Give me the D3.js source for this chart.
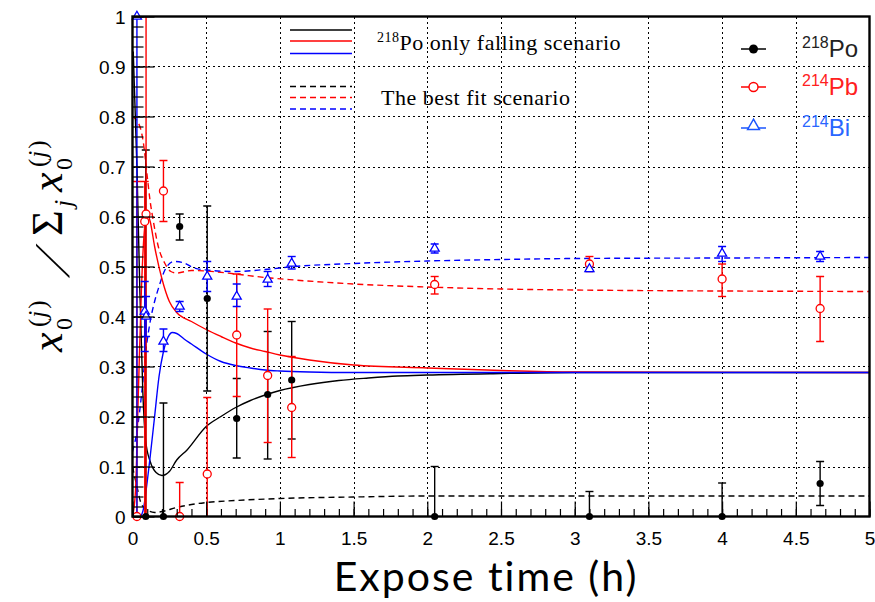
<!DOCTYPE html>
<html>
<head>
<meta charset="utf-8">
<script src="https://cdn.jsdelivr.net/npm/d3@7"></script>
<style>
  html, body { margin: 0; padding: 0; background: #fff; }
  svg { display: block; }
</style>
</head>
<body>
<svg id="chart" width="875" height="602"></svg>
<script>
// ---- axis ticks -------------------------------------------------------
const xTickValues = [0, 0.5, 1, 1.5, 2, 2.5, 3, 3.5, 4, 4.5, 5];
const xTickLabels = ["0", "0.5", "1", "1.5", "2", "2.5", "3", "3.5", "4", "4.5", "5"];
const yTickValues = [0, 0.1, 0.2, 0.3, 0.4, 0.5, 0.6, 0.7, 0.8, 0.9, 1];
const yTickLabels = ["0", "0.1", "0.2", "0.3", "0.4", "0.5", "0.6", "0.7", "0.8", "0.9", "1"];

// ---- measured fractions with asymmetric error bars -------------------
// 218Po
const poT  = [0.03, 0.09, 0.21, 0.32, 0.507, 0.707, 0.917, 1.08, 2.05, 3.1, 4.0, 4.665];
const poV  = [0.0, 0.0, 0.0, 0.58, 0.436, 0.196, 0.244, 0.273, 0.0, 0.0, 0.0, 0.066];
const poLo = [0.0, 0.0, 0.0, 0.553, 0.251, 0.117, 0.115, 0.155, 0.0, 0.0, 0.0, 0.022];
const poHi = [0.0, 0.733, 0.227, 0.605, 0.621, 0.276, 0.37, 0.39, 0.1, 0.05, 0.067, 0.11];
// 214Pb
const pbT  = [0.03, 0.083, 0.092, 0.21, 0.32, 0.507, 0.707, 0.917, 1.08, 2.05, 3.1, 4.0, 4.665];
const pbV  = [0.0, 0.59, 0.605, 0.651, 0.0, 0.085, 0.363, 0.282, 0.218, 0.464, 0.505, 0.475, 0.416];
const pbLo = [0.0, 0.0, 0.0, 0.59, 0.0, 0.0, 0.24, 0.148, 0.118, 0.445, 0.49, 0.44, 0.35];
const pbHi = [0.67, 0.67, 1.0, 0.712, 0.068, 0.238, 0.485, 0.415, 0.32, 0.48, 0.52, 0.505, 0.48];
// 214Bi
const biT  = [0.03, 0.083, 0.092, 0.21, 0.32, 0.507, 0.707, 0.917, 1.08, 2.05, 3.1, 4.0, 4.665];
const biV  = [1.0, 0.41, 0.40, 0.35, 0.42, 0.48, 0.44, 0.474, 0.506, 0.536, 0.495, 0.526, 0.52];
const biLo = [0.0, 0.33, 0.36, 0.33, 0.41, 0.45, 0.42, 0.46, 0.495, 0.527, 0.49, 0.51, 0.51];
const biHi = [1.0, 0.47, 0.44, 0.375, 0.43, 0.51, 0.465, 0.49, 0.52, 0.545, 0.50, 0.54, 0.53];

// ---- model curves: "218Po only falling" (solid) ----------------------
const fallPoT = [0.005, 0.03, 0.05, 0.07, 0.09, 0.12, 0.16, 0.2, 0.25, 0.3, 0.37, 0.5, 0.6, 0.7, 0.8, 0.9, 1.0, 1.2, 1.4, 1.6, 1.8, 2.0, 2.5, 3.0, 5.0];
const fallPoV = [0.93, 0.7, 0.45, 0.25, 0.15, 0.11, 0.088, 0.082, 0.09, 0.113, 0.133, 0.18, 0.2, 0.218, 0.232, 0.243, 0.252, 0.264, 0.272, 0.277, 0.281, 0.283, 0.286, 0.288, 0.288];
const fallPbT = [0.0, 0.02, 0.04, 0.06, 0.08, 0.1, 0.12, 0.15, 0.2, 0.25, 0.3, 0.4, 0.5, 0.6, 0.7, 0.8, 0.9, 1.0, 1.2, 1.5, 2.0, 2.5, 3.0, 5.0];
const fallPbV = [0.0, 0.05, 0.25, 0.45, 0.57, 0.605, 0.59, 0.54, 0.475, 0.43, 0.408, 0.39, 0.374, 0.36, 0.347, 0.337, 0.33, 0.323, 0.313, 0.303, 0.297, 0.292, 0.289, 0.288];
const fallBiT = [0.0, 0.05, 0.07, 0.1, 0.12, 0.15, 0.18, 0.21, 0.24, 0.27, 0.3, 0.35, 0.4, 0.5, 0.6, 0.7, 0.8, 0.9, 1.0, 1.2, 1.5, 5.0];
const fallBiV = [0.0, 0.0, 0.01, 0.07, 0.12, 0.2, 0.28, 0.33, 0.358, 0.368, 0.366, 0.355, 0.345, 0.325, 0.31, 0.302, 0.297, 0.293, 0.291, 0.289, 0.288, 0.288];

// ---- model curves: best fit (dashed) ---------------------------------
const fitPoT = [0.0, 0.03, 0.06, 0.1, 0.15, 0.2, 0.3, 0.4, 0.5, 0.7, 1.0, 1.5, 2.0, 3.0, 5.0];
const fitPoV = [0.1, 0.06, 0.025, 0.013, 0.008, 0.01, 0.018, 0.024, 0.028, 0.032, 0.036, 0.039, 0.041, 0.041, 0.041];
const fitPbT = [0.0, 0.05, 0.075, 0.1, 0.12, 0.14, 0.175, 0.22, 0.26, 0.3, 0.4, 0.5, 0.7, 0.9, 1.1, 1.5, 2.0, 2.5, 3.0, 4.0, 5.0];
const fitPbV = [0.8, 0.78, 0.745, 0.68, 0.63, 0.593, 0.54, 0.506, 0.49, 0.487, 0.492, 0.491, 0.485, 0.478, 0.473, 0.465, 0.459, 0.455, 0.453, 0.451, 0.45];
const fitBiT = [0.0, 0.03, 0.06, 0.09, 0.12, 0.15, 0.18, 0.22, 0.28, 0.34, 0.42, 0.5, 0.7, 0.9, 1.1, 1.5, 2.0, 2.5, 3.0, 4.0, 5.0];
const fitBiV = [0.13, 0.17, 0.24, 0.33, 0.39, 0.43, 0.46, 0.493, 0.51, 0.508, 0.497, 0.493, 0.49, 0.494, 0.5, 0.506, 0.511, 0.514, 0.516, 0.517, 0.518];

// ---- layout -----------------------------------------------------------
const svg = d3.select("#chart");
const plotL = 132.5, plotR = 869.5, plotT = 16.5, plotB = 516.5;
const x = d3.scaleLinear().domain([0, 5]).range([plotL, plotR]);
const y = d3.scaleLinear().domain([0, 1]).range([plotB, plotT]);

const BLACK = "#000000", RED = "#ff0000", BLUE = "#0000ff";

svg.append("defs").append("clipPath").attr("id", "plotClip")
  .append("rect").attr("x", plotL).attr("y", plotT)
  .attr("width", plotR - plotL).attr("height", plotB - plotT);

// dotted grid at the major ticks
const gridG = svg.append("g").attr("stroke", "#000").attr("stroke-width", 1)
  .attr("stroke-dasharray", "2,3").attr("shape-rendering", "crispEdges");
gridG.selectAll("line.gx").data(xTickValues.slice(1, -1)).join("line").attr("class", "gx")
  .attr("x1", d => Math.round(x(d)) + 0.5).attr("x2", d => Math.round(x(d)) + 0.5)
  .attr("y1", plotT).attr("y2", plotB);
gridG.selectAll("line.gy").data(yTickValues.slice(1, -1)).join("line").attr("class", "gy")
  .attr("x1", plotL).attr("x2", plotR)
  .attr("y1", d => Math.round(y(d)) + 0.5).attr("y2", d => Math.round(y(d)) + 0.5);

// model curves
const plot = svg.append("g").attr("clip-path", "url(#plotClip)");
function curve(ts, vs, color, dashed) {
  const pts = ts.map((t, i) => [t, vs[i]]);
  plot.append("path")
    .attr("d", d3.line().x(d => x(d[0])).y(d => y(d[1])).curve(d3.curveMonotoneX)(pts))
    .attr("fill", "none").attr("stroke", color).attr("stroke-width", 1.4)
    .attr("stroke-dasharray", dashed ? "6,4" : null);
}
curve(fitPoT, fitPoV, BLACK, true);
curve(fitPbT, fitPbV, RED, true);
curve(fitBiT, fitBiV, BLUE, true);
curve(fallPoT, fallPoV, BLACK, false);
curve(fallPbT, fallPbV, RED, false);
curve(fallBiT, fallBiV, BLUE, false);

// error bars
function errorBars(ts, lo, hi, color) {
  const g = plot.append("g").attr("stroke", color).attr("stroke-width", 1.4);
  ts.forEach((t, i) => {
    if (hi[i] - lo[i] <= 0) return;
    const cx = x(t);
    g.append("line").attr("x1", cx).attr("x2", cx).attr("y1", y(lo[i])).attr("y2", y(hi[i]));
    [lo[i], hi[i]].forEach(v => {
      if (v <= 0 || v >= 1) return;
      g.append("line").attr("x1", cx - 4).attr("x2", cx + 4).attr("y1", y(v)).attr("y2", y(v));
    });
  });
}
errorBars(poT, poLo, poHi, BLACK);
errorBars(pbT, pbLo, pbHi, RED);
errorBars(biT, biLo, biHi, BLUE);

// markers
const triangle = d3.symbol().type(d3.symbolTriangle).size(36);
const marks = svg.append("g");
poT.forEach((t, i) => marks.append("circle").attr("cx", x(t)).attr("cy", y(poV[i]))
  .attr("r", 3.6).attr("fill", BLACK));
pbT.forEach((t, i) => marks.append("circle").attr("cx", x(t)).attr("cy", y(pbV[i]))
  .attr("r", 4).attr("fill", "#fff").attr("stroke", RED).attr("stroke-width", 1.3));
biT.forEach((t, i) => marks.append("path").attr("d", triangle)
  .attr("transform", `translate(${x(t)},${y(biV[i])})`)
  .attr("fill", "#fff").attr("stroke", BLUE).attr("stroke-width", 1.3));

// axes: inward ticks, major + minor
const xMinor = d3.range(0, 5.0001, 0.1);
const yMinor = d3.range(0, 1.0001, 0.02);
const axisFont = "'Liberation Sans', Arial, Helvetica, sans-serif";

const xAxis = d3.axisBottom(x).tickValues(xTickValues)
  .tickFormat((d, i) => xTickLabels[i]).tickSize(-15).tickPadding(28);
const xAxisMinor = d3.axisBottom(x).tickValues(xMinor).tickFormat(() => "").tickSize(-7.5);
const yAxis = d3.axisLeft(y).tickValues(yTickValues)
  .tickFormat((d, i) => yTickLabels[i]).tickSize(-22).tickPadding(7);
const yAxisMinor = d3.axisLeft(y).tickValues(yMinor).tickFormat(() => "").tickSize(-11);

function styleAxis(g) {
  g.select(".domain").remove();
  g.selectAll(".tick line").attr("stroke", "#000").attr("stroke-width", 1.2);
  g.selectAll(".tick text").attr("fill", "#000").attr("font-size", 19)
    .attr("font-family", axisFont);
}
svg.append("g").attr("transform", `translate(0,${plotB})`).call(xAxisMinor).call(styleAxis);
svg.append("g").attr("transform", `translate(0,${plotB})`).call(xAxis).call(styleAxis)
  .selectAll(".tick text").attr("dy", "0");
svg.append("g").attr("transform", `translate(${plotL},0)`).call(yAxisMinor).call(styleAxis);
svg.append("g").attr("transform", `translate(${plotL},0)`).call(yAxis).call(styleAxis)
  .selectAll(".tick text").attr("dy", "0.36em");

// frame
svg.append("rect").attr("x", plotL).attr("y", plotT)
  .attr("width", plotR - plotL).attr("height", plotB - plotT)
  .attr("fill", "none").attr("stroke", "#000").attr("stroke-width", 2.4);

// x axis title
svg.append("text").attr("x", 486).attr("y", 591)
  .attr("text-anchor", "middle")
  .attr("font-family", "Lato, 'Open Sans', sans-serif")
  .attr("font-size", 41).attr("letter-spacing", 2).attr("fill", "#000")
  .text("Expose time (h)");

// y axis title: x0^(j) / Σ_j x0^(j), laid out along the rotated axis
const serifMath = "'Liberation Serif', 'Times New Roman', serif";
const yt = svg.append("g").attr("transform", "translate(62,352) rotate(-90)")
  .attr("font-family", serifMath).attr("fill", "#000");
function piece(txt, px, py, size, italic) {
  return yt.append("text").attr("x", px).attr("y", py).attr("font-size", size)
    .attr("font-style", italic ? "italic" : null).text(txt);
}
function xTerm(px) {
  piece("x", px, 0, 44, true);
  piece("0", px + 22, 10, 24, false);
  const sup = yt.append("text").attr("x", px + 25).attr("y", -16).attr("font-size", 25);
  sup.append("tspan").text("(");
  sup.append("tspan").attr("font-style", "italic").attr("dx", 1).text("j");
  sup.append("tspan").attr("dx", 2).text(")");
}
xTerm(0);
yt.append("text").attr("font-size", 50)
  .attr("transform", "translate(74,7) skewX(-32)").text("/");
piece("\u03A3", 116, 0, 44, false);
piece("j", 145, 10, 26, true);
xTerm(160);

// ---- legend: model scenarios -----------------------------------------
const leg1 = svg.append("g");
const serif = "'Liberation Serif', 'DejaVu Serif', serif";
[[30, BLACK], [41, RED], [53.5, BLUE]].forEach(([yy, c]) =>
  leg1.append("line").attr("x1", 290).attr("x2", 352).attr("y1", yy).attr("y2", yy)
    .attr("stroke", c).attr("stroke-width", 1.4));
[[86.5, BLACK], [97.5, RED], [109, BLUE]].forEach(([yy, c]) =>
  leg1.append("line").attr("x1", 290).attr("x2", 352).attr("y1", yy).attr("y2", yy)
    .attr("stroke", c).attr("stroke-width", 1.4).attr("stroke-dasharray", "6,4"));
const l1 = leg1.append("text").attr("x", 377).attr("y", 50)
  .attr("font-family", serif).attr("font-size", 22).attr("letter-spacing", 0.5)
  .attr("fill", "#000");
l1.append("tspan").attr("font-size", 14).attr("dy", -8).text("218");
l1.append("tspan").attr("dy", 8).text("Po only falling scenario");
leg1.append("text").attr("x", 381).attr("y", 105)
  .attr("font-family", serif).attr("font-size", 22).attr("letter-spacing", 0.5)
  .attr("fill", "#000").text("The best fit scenario");

// ---- legend: measured isotopes ---------------------------------------
const leg2 = svg.append("g");
const isoRows = [
  {y: 49, color: BLACK, text: "#222", mass: "218", sym: "Po", kind: "dot"},
  {y: 87, color: RED, text: "#ff2020", mass: "214", sym: "Pb", kind: "circle"},
  {y: 128, color: "#1a55ff", text: "#2a66ff", mass: "214", sym: "Bi", kind: "tri"}
];
isoRows.forEach(r => {
  leg2.append("line").attr("x1", 741).attr("x2", 766).attr("y1", r.y).attr("y2", r.y)
    .attr("stroke", r.color).attr("stroke-width", 1.5);
  if (r.kind === "dot") {
    leg2.append("circle").attr("cx", 753.5).attr("cy", r.y).attr("r", 4.5).attr("fill", r.color);
  } else if (r.kind === "circle") {
    leg2.append("circle").attr("cx", 753.5).attr("cy", r.y).attr("r", 4.5)
      .attr("fill", "#fff").attr("stroke", r.color).attr("stroke-width", 1.4);
  } else {
    leg2.append("path").attr("d", d3.symbol().type(d3.symbolTriangle).size(60))
      .attr("transform", `translate(753.5,${r.y - 2})`)
      .attr("fill", "#fff").attr("stroke", r.color).attr("stroke-width", 1.5);
  }
  const t = leg2.append("text").attr("x", 802).attr("y", r.y + 8)
    .attr("font-family", axisFont).attr("font-size", 24).attr("fill", r.text);
  t.append("tspan").attr("font-size", 16).attr("dy", -9).text(r.mass);
  t.append("tspan").attr("dy", 9).text(r.sym);
});
</script>
</body>
</html>
